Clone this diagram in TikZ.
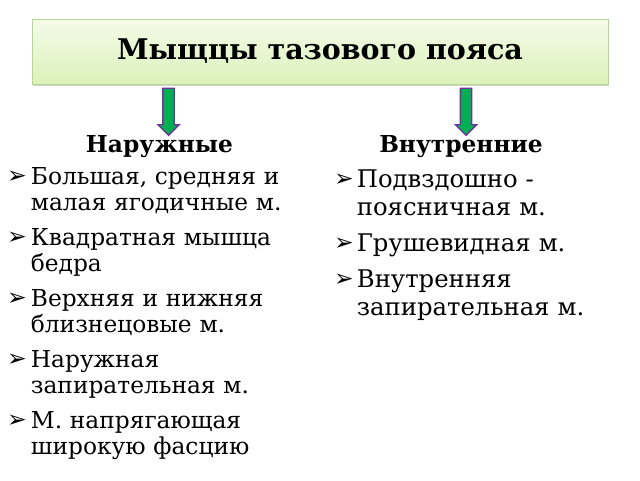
\documentclass[tikz,border=0pt]{standalone}
\usepackage{fontspec}
\setmainfont{DejaVu Serif}
\newfontfamily\bulletfont{DejaVu Sans}
\usetikzlibrary{shapes.arrows,shadows}

\definecolor{boxtop}{HTML}{F4FBE9}
\definecolor{boxbot}{HTML}{DCF2BA}
\definecolor{boxline}{HTML}{B8D68E}
\definecolor{arrowgreen}{HTML}{00B050}
\definecolor{arrowviolet}{HTML}{7030A0}

\tikzset{
  titlebox/.style={draw=boxline, line width=1pt, top color=boxtop, bottom color=boxbot,
    minimum width=576pt, minimum height=65pt,
    drop shadow={shadow xshift=0.5pt, shadow yshift=-2pt, opacity=0.35, fill=gray},
    font=\bfseries\fontsize{28.5}{32}\selectfont},
  downarrow/.style={single arrow, rotate=-90, fill=arrowgreen, draw=arrowviolet, line width=1.3pt,
    minimum height=47pt, single arrow head extend=5pt, inner sep=5pt},
  heading/.style={anchor=base, inner sep=0pt, font=\bfseries\fontsize{23.3}{27}\selectfont},
  bul/.style={anchor=base west, inner sep=0pt, font=\bulletfont\fontsize{23.5}{24}\selectfont},
  leftitem/.style={anchor=base west, inner sep=0pt, text width=300pt, align=left,
    font=\fontsize{23.3}{26}\selectfont},
  rightitem/.style={anchor=base west, inner sep=0pt, text width=280pt, align=left,
    font=\fontsize{24.3}{28}\selectfont}
}

\begin{document}
\begin{tikzpicture}[x=1pt, y=-1pt]
    \useasboundingbox (0,0) rectangle (640,480);

    % title and the two groups
    \node (title) at (320,51.5) [titlebox] {Мыщцы тазового пояса};

    \node (arrL) at (168.5,109) [downarrow] {};
    \node (arrR) at (466,109) [downarrow] {};

    \node (outer) at (159.5,152) [heading] {Наружные};
    \node (inner) at (461,152) [heading] {Внутренние};

    \node (bl1) at (7,183) [bul] {➢};
    \node (l1) at (30.7,184) [leftitem] {Большая, средняя и\\малая ягодичные м.};
    \node (bl2) at (7,244) [bul] {➢};
    \node (l2) at (30.7,245) [leftitem] {Квадратная мышца\\бедра};
    \node (bl3) at (7,305) [bul] {➢};
    \node (l3) at (30.7,306) [leftitem] {Верхняя и нижняя\\близнецовые м.};
    \node (bl4) at (7,366) [bul] {➢};
    \node (l4) at (30.7,367) [leftitem] {Наружная\\запирательная м.};
    \node (bl5) at (7,427) [bul] {➢};
    \node (l5) at (30.7,428) [leftitem] {М. напрягающая\\широкую фасцию};

    \node (br1) at (334,186) [bul] {➢};
    \node (r1) at (356.7,187) [rightitem] {Подвздошно -\\поясничная м.};
    \node (br2) at (334,250.5) [bul] {➢};
    \node (r2) at (356.7,251.5) [rightitem] {Грушевидная м.};
    \node (br3) at (334,286) [bul] {➢};
    \node (r3) at (356.7,287) [rightitem] {Внутренняя\\запирательная м.};
\end{tikzpicture}
\end{document}
